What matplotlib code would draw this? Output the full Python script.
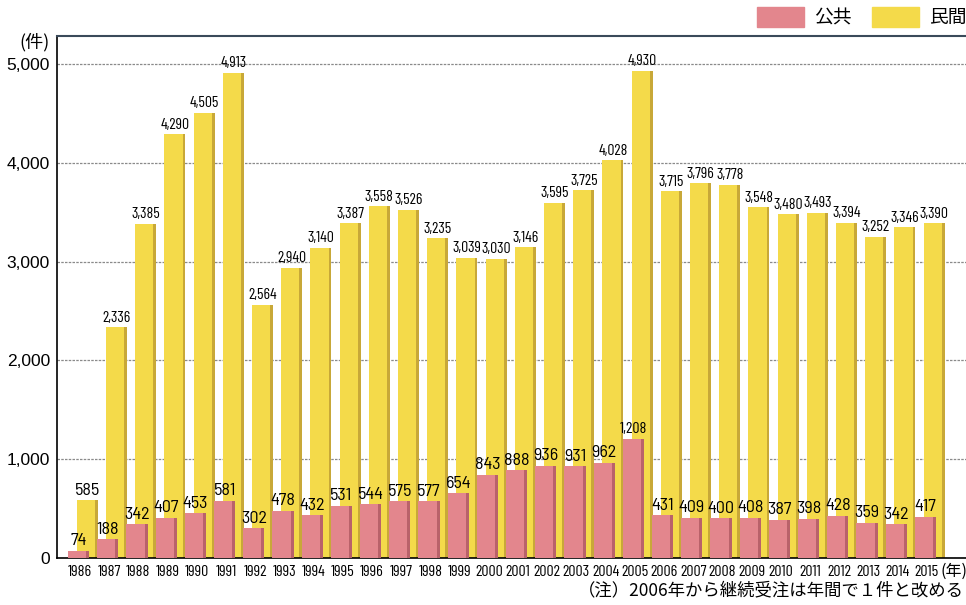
import numpy as np
import matplotlib.pyplot as plt
from matplotlib.patches import Rectangle

years = list(range(1986, 2016))
public = [74, 188, 342, 407, 453, 581, 302, 478, 432, 531, 544, 575, 577, 654, 843,
          888, 936, 931, 962, 1208, 431, 409, 400, 408, 387, 398, 428, 359, 342, 417]
private = [585, 2336, 3385, 4290, 4505, 4913, 2564, 2940, 3140, 3387, 3558, 3526, 3235, 3039, 3030,
           3146, 3595, 3725, 4028, 4930, 3715, 3796, 3778, 3548, 3480, 3493, 3394, 3252, 3346, 3390]
yticks = [0, 1000, 2000, 3000, 4000, 5000]

yellow = '#f4da4a'
yellow_dark = '#c8a838'
pink = '#e3868d'
pink_dark = '#b9626a'

narrow = ['Barlow Condensed', 'Archivo Narrow', 'DejaVu Sans']
semi = ['Barlow Semi Condensed', 'Barlow Condensed', 'DejaVu Sans']
cjk = ['Noto Sans CJK JP', 'DejaVu Sans']

fig = plt.figure(figsize=(9.66, 6.05), dpi=100)
ax = fig.add_axes([0.059, 0.0777, 0.941, 0.863])

x = np.arange(len(years))
w = 0.72
side = 0.1
xp = x - 0.05
xy = x + 0.25

ax.bar(xy, private, width=w, color=yellow, zorder=2)
ax.bar(xy + w / 2 - side / 2, private, width=side, color=yellow_dark, zorder=2)
ax.bar(xp, public, width=w, color=pink, zorder=3)
ax.bar(xp + w / 2 - side / 2, public, width=side, color=pink_dark, zorder=3)

for i in range(len(years)):
    if private[i] >= 1000:
        ax.text(xy[i], private[i] + 25, f'{private[i]:,}', ha='center', va='bottom',
                fontsize=11.3, family=narrow, zorder=4)
    else:
        ax.text(xy[i], private[i] + 25, f'{private[i]:,}', ha='center', va='bottom',
                fontsize=13, family=semi, zorder=4)
    if public[i] >= 1000:
        ax.text(xp[i], public[i] + 25, f'{public[i]:,}', ha='center', va='bottom',
                fontsize=11.5, family=narrow, zorder=4)
    else:
        ax.text(xp[i], public[i] + 25, f'{public[i]:,}', ha='center', va='bottom',
                fontsize=13, family=semi, zorder=4)

ax.set_xlim(-0.79, 30.34)
ax.set_ylim(0, 5285)
ax.set_yticks(yticks)
ax.set_yticklabels([f'{v:,}' for v in yticks], fontsize=12.5, family='Liberation Sans')
ax.set_xticks(x)
ax.set_xticklabels([str(y) for y in years], fontsize=11.5, family=narrow)
ax.tick_params(length=0, pad=5)
ax.tick_params(axis='y', pad=5)
ax.yaxis.grid(True, linestyle=(0, (2, 1)), color='#8a8a8a', linewidth=0.9, zorder=1)
ax.set_axisbelow(True)
ax.spines['right'].set_visible(False)
ax.spines['top'].set_color('#3a4a5a')
ax.spines['left'].set_linewidth(1.2)
ax.spines['bottom'].set_linewidth(1.2)
ax.spines['top'].set_linewidth(1.5)

fig.text(0.036, 0.93, '(件)', fontsize=13, family=cjk, ha='center', va='center')
fig.text(0.988, 0.0777 - 0.022, '(年)', fontsize=11.5, family=cjk, ha='center', va='center')
fig.text(0.998, 0.022, '（注）2006年から継続受注は年間で１件と改める', fontsize=12.5, family=cjk,
         ha='right', va='center')

fig.add_artist(Rectangle((0.784, 0.955), 0.048, 0.033, transform=fig.transFigure, color=pink))
fig.text(0.843, 0.971, '公共', fontsize=13.5, family=cjk, va='center')
fig.add_artist(Rectangle((0.903, 0.955), 0.048, 0.033, transform=fig.transFigure, color=yellow))
fig.text(0.962, 0.971, '民間', fontsize=13.5, family=cjk, va='center')

fig.savefig('out.png', dpi=100)
